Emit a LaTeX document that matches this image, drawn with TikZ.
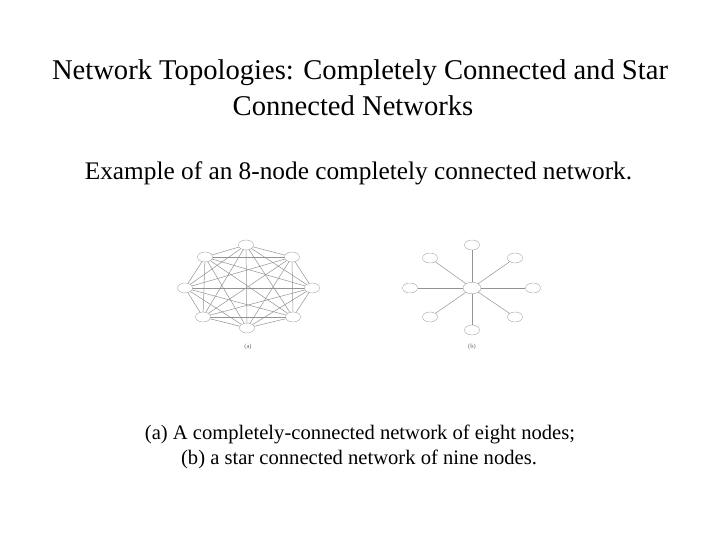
\documentclass[tikz,border=0pt]{standalone}
\usepackage{fontspec}
\setmainfont{Liberation Serif}
\usetikzlibrary{shapes.geometric}
\begin{document}
\begin{tikzpicture}[x=1pt,y=-1pt,
  nd/.style={draw=gray!70, ellipse, minimum width=15pt, minimum height=10pt, inner sep=0pt, fill=white},
  cnd/.style={nd, minimum width=18pt, minimum height=11.5pt},
  edge/.style={draw=gray!85, line width=0.5pt},
  lbl/.style={font=\fontsize{6.5}{7}\selectfont, text=gray!80!black},
  ttl/.style={font=\fontsize{28.6}{33}\selectfont, inner sep=0pt},
  sbt/.style={font=\fontsize{25.3}{30}\selectfont, inner sep=0pt},
  cpt/.style={font=\fontsize{20.6}{25}\selectfont, inner sep=0pt}]
\useasboundingbox (0,0) rectangle (720,540);
\node[ttl] (title1) at (360,73) {Network Topologies: Completely Connected and Star};
\node[ttl] (title2) at (353,106) {Connected Networks};
\node[sbt] (sub) at (358.5,173) {Example of an 8-node completely connected network.};
\node[cpt] (cap1) at (360,434) {(a) A completely-connected network of eight nodes;};
\node[cpt] (cap2) at (359,459) {(b) a star connected network of nine nodes.};
% (a) completely connected
\foreach \n/\x/\y in {1/246/245, 2/292/257, 3/312/288, 4/293/317, 5/247/328, 6/203/317, 7/185/288, 8/205/257}
  \coordinate (a\n) at (\x,\y);
\foreach \i in {1,...,8}{
  \foreach \j in {1,...,8}{
    \ifnum\i<\j \draw[edge] (a\i) -- (a\j); \fi
  }
}
\foreach \i in {1,...,8} \node[nd] (na\i) at (a\i) {};
\node[lbl] (la) at (248,347) {(a)};
% (b) star
\node[cnd] (c) at (472,288) {};
\foreach \n/\x/\y in {1/472/245, 2/515/258, 3/533/288, 4/515/317, 5/472/330, 6/430/317, 7/410/288, 8/430/258}{
  \node[nd] (b\n) at (\x,\y) {};
  \draw[edge] (c) -- (b\n);
}
\node[lbl] (lb) at (472,347) {(b)};
\end{tikzpicture}
\end{document}
